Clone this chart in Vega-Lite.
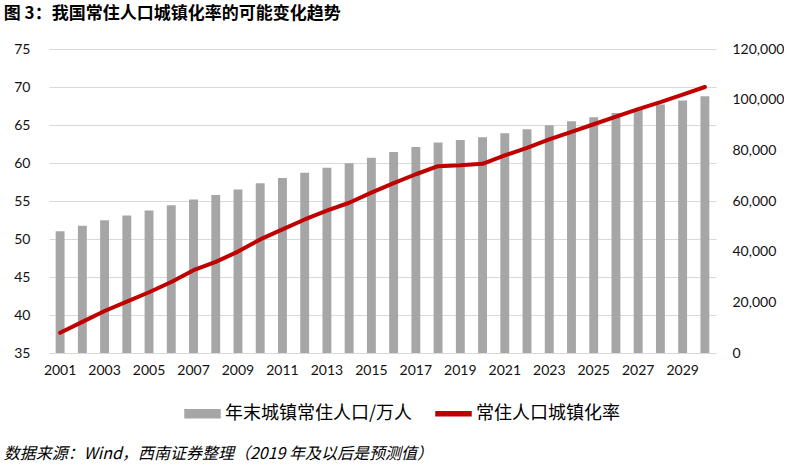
{
  "$schema": "https://vega.github.io/schema/vega-lite/v6.json",
  "description": "我国常住人口城镇化率的可能变化趋势",
  "padding": {"left": 3, "top": 5, "right": 0, "bottom": 6},
  "background": "white",
  "config": {
    "view": {"stroke": null},
    "font": "Lato",
    "axis": {"labelFont": "Lato", "labelFontSize": 14, "labelColor": "#111111", "ticks": false, "domain": false}
  },
  "title": {
    "text": "图 3：我国常住人口城镇化率的可能变化趋势",
    "anchor": "start",
    "font": "Noto Sans CJK SC",
    "fontSize": 17,
    "fontWeight": "bold",
    "color": "#000000",
    "offset": 19
  },
  "vconcat": [
    {
      "width": 667,
      "height": 304,
      "title": {
        "text": "数据来源：Wind，西南证券整理（2019 年及以后是预测值）",
        "orient": "bottom",
        "anchor": "start",
        "font": "Noto Sans CJK SC",
        "fontSize": 16,
        "fontStyle": "italic",
        "fontWeight": "normal",
        "color": "#000000",
        "dx": -10,
        "offset": 69
      },
      "data": {
        "values": [
          {"year": 2001, "pop": 48064, "rate": 37.66},
          {"year": 2002, "pop": 50212, "rate": 39.09},
          {"year": 2003, "pop": 52376, "rate": 40.53},
          {"year": 2004, "pop": 54283, "rate": 41.76},
          {"year": 2005, "pop": 56212, "rate": 42.99},
          {"year": 2006, "pop": 58288, "rate": 44.34},
          {"year": 2007, "pop": 60633, "rate": 45.89},
          {"year": 2008, "pop": 62403, "rate": 46.99},
          {"year": 2009, "pop": 64512, "rate": 48.34},
          {"year": 2010, "pop": 66978, "rate": 49.95},
          {"year": 2011, "pop": 69079, "rate": 51.27},
          {"year": 2012, "pop": 71182, "rate": 52.57},
          {"year": 2013, "pop": 73111, "rate": 53.73},
          {"year": 2014, "pop": 74916, "rate": 54.77},
          {"year": 2015, "pop": 77116, "rate": 56.10},
          {"year": 2016, "pop": 79298, "rate": 57.35},
          {"year": 2017, "pop": 81347, "rate": 58.52},
          {"year": 2018, "pop": 83137, "rate": 59.58},
          {"year": 2019, "pop": 84100, "rate": 59.7},
          {"year": 2020, "pop": 85130, "rate": 59.9},
          {"year": 2021, "pop": 86710, "rate": 61.0},
          {"year": 2022, "pop": 88290, "rate": 62.0},
          {"year": 2023, "pop": 89870, "rate": 63.1},
          {"year": 2024, "pop": 91450, "rate": 64.1},
          {"year": 2025, "pop": 93030, "rate": 65.1},
          {"year": 2026, "pop": 94770, "rate": 66.1},
          {"year": 2027, "pop": 96350, "rate": 67.1},
          {"year": 2028, "pop": 98060, "rate": 68.0},
          {"year": 2029, "pop": 99640, "rate": 69.0},
          {"year": 2030, "pop": 101340, "rate": 70.0}
        ]
      },
      "encoding": {
        "x": {
          "field": "year",
          "type": "ordinal",
          "scale": {"paddingInner": 0.6, "paddingOuter": 0.3},
          "axis": {
            "title": null,
            "labelAngle": 0,
            "labelPadding": 10,
            "values": [2001, 2003, 2005, 2007, 2009, 2011, 2013, 2015, 2017, 2019, 2021, 2023, 2025, 2027, 2029]
          }
        },
        "color": {
          "scale": {
            "domain": ["年末城镇常住人口/万人", "常住人口城镇化率"],
            "range": ["#a6a6a6", "#c00000"]
          },
          "legend": {
            "orient": "none",
            "legendX": 135,
            "legendY": 346,
            "direction": "horizontal",
            "title": null,
            "padding": 0,
            "labelFont": "Noto Sans CJK SC",
            "labelFontSize": 18,
            "labelColor": "#000000",
            "labelLimit": 400,
            "labelOffset": 4,
            "columnPadding": 20,
            "symbolSize": 1225,
            "symbolType": "M-1,-0.23H1V0.23H-1Z",
            "encode": {
              "symbols": {
                "update": {
                  "shape": {"signal": "datum.value === '常住人口城镇化率' ? 'M-1,-0.115H1V0.115H-1Z' : 'M-1,-0.23H1V0.23H-1Z'"},
                  "fill": {"signal": "scale('color', datum.value)"},
                  "stroke": {"value": "transparent"},
                  "opacity": {"value": 1},
                  "fillOpacity": {"value": 1}
                }
              }
            }
          }
        }
      },
      "layer": [
        {
          "mark": {"type": "bar", "color": "#a6a6a6"},
          "encoding": {
            "y": {
              "field": "pop",
              "type": "quantitative",
              "scale": {"domain": [0, 120000], "nice": false},
              "axis": {
                "orient": "right",
                "title": null,
                "grid": false,
                "values": [0, 20000, 40000, 60000, 80000, 100000, 120000],
                "format": ",d",
                "labelPadding": 16
              }
            },
            "color": {"datum": "年末城镇常住人口/万人"}
          }
        },
        {
          "mark": {"type": "line", "strokeWidth": 4, "strokeCap": "round", "strokeJoin": "round", "color": "#c00000"},
          "encoding": {
            "y": {
              "field": "rate",
              "type": "quantitative",
              "scale": {"domain": [35, 75], "nice": false, "zero": false},
              "axis": {
                "orient": "left",
                "title": null,
                "grid": true,
                "gridColor": "#d9d9d9",
                "gridWidth": 1,
                "values": [35, 40, 45, 50, 55, 60, 65, 70, 75],
                "labelPadding": 19
              }
            },
            "color": {"datum": "常住人口城镇化率"}
          }
        }
      ],
      "resolve": {"scale": {"y": "independent"}}
    }
  ]
}
